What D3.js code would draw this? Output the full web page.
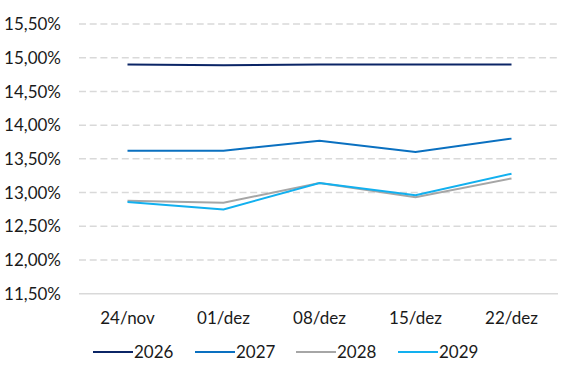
<!DOCTYPE html>
<html lang="pt">
<head>
<meta charset="UTF-8"/>
<title>Curvas</title>
<script src="https://d3js.org/d3.v7.min.js"></script>
<style>
  body { margin: 0; background: #fff; }
  text { font-family: Lato, "Open Sans", sans-serif; fill: #1a1a1a; }
  .line { fill: none; stroke-width: 2px; }
</style>
</head>
<body>
<script>
  var w = 567, h = 383;

  var categories = ["24/nov", "01/dez", "08/dez", "15/dez", "22/dez"];
  var yTicks = [11.5, 12, 12.5, 13, 13.5, 14, 14.5, 15, 15.5];
  var seriesNames = ["2026", "2027", "2028", "2029"];
  var values2026 = [14.90, 14.89, 14.90, 14.90, 14.90];
  var values2027 = [13.62, 13.62, 13.77, 13.60, 13.80];
  var values2028 = [12.88, 12.85, 13.14, 12.93, 13.21];
  var values2029 = [12.86, 12.75, 13.14, 12.96, 13.28];
  var colors = ["#0b2566", "#0a70c0", "#a6a6a6", "#12b0ef"];

  var series = [values2026, values2027, values2028, values2029];

  var svg = d3.select("body").append("svg")
      .attr("width", w).attr("height", h);

  var x = d3.scaleBand().domain(categories).range([79.5, 559.5]);
  var y = d3.scaleLinear().domain([11.5, 15.5]).range([293.7, 24]);

  // grid lines
  svg.append("g").selectAll("line")
    .data(yTicks).enter().append("line")
    .attr("x1", 79).attr("x2", 558)
    .attr("y1", function(d) { return y(d); })
    .attr("y2", function(d) { return y(d); })
    .attr("stroke", "#d9d9d9")
    .attr("stroke-width", 1.5)
    .attr("stroke-dasharray", function(d) { return d === 11.5 ? null : "7,3.7"; });

  // y labels
  svg.append("g").selectAll("text")
    .data(yTicks).enter().append("text")
    .attr("x", 61)
    .attr("y", function(d) { return y(d); })
    .attr("dy", "0.36em")
    .attr("text-anchor", "end")
    .style("font-size", "17px")
    .text(function(d) { return d.toFixed(2).replace(".", ",") + "%"; });

  // x labels
  svg.append("g").selectAll("text")
    .data(categories).enter().append("text")
    .attr("x", function(d) { return x(d) + x.bandwidth() / 2; })
    .attr("y", 318)
    .attr("dy", "0.36em")
    .attr("text-anchor", "middle")
    .style("font-size", "17px")
    .text(function(d) { return d; });

  var line = d3.line()
    .x(function(d, i) { return x(categories[i]) + x.bandwidth() / 2; })
    .y(function(d) { return y(d); });

  series.forEach(function(s, i) {
    svg.append("path")
      .datum(s)
      .attr("class", "line")
      .attr("stroke", colors[i])
      .attr("d", line);
  });

  // legend
  var legendX = [93, 195, 296, 398];
  var legend = svg.append("g").selectAll("g")
    .data(seriesNames).enter().append("g")
    .attr("transform", function(d, i) { return "translate(" + legendX[i] + ",352)"; });

  legend.append("line")
    .attr("x1", 0).attr("x2", 40)
    .attr("stroke", function(d, i) { return colors[i]; })
    .attr("stroke-width", 2);

  legend.append("text")
    .attr("x", 41)
    .attr("dy", "0.36em")
    .style("font-size", "17px")
    .text(function(d) { return d; });
</script>
</body>
</html>
